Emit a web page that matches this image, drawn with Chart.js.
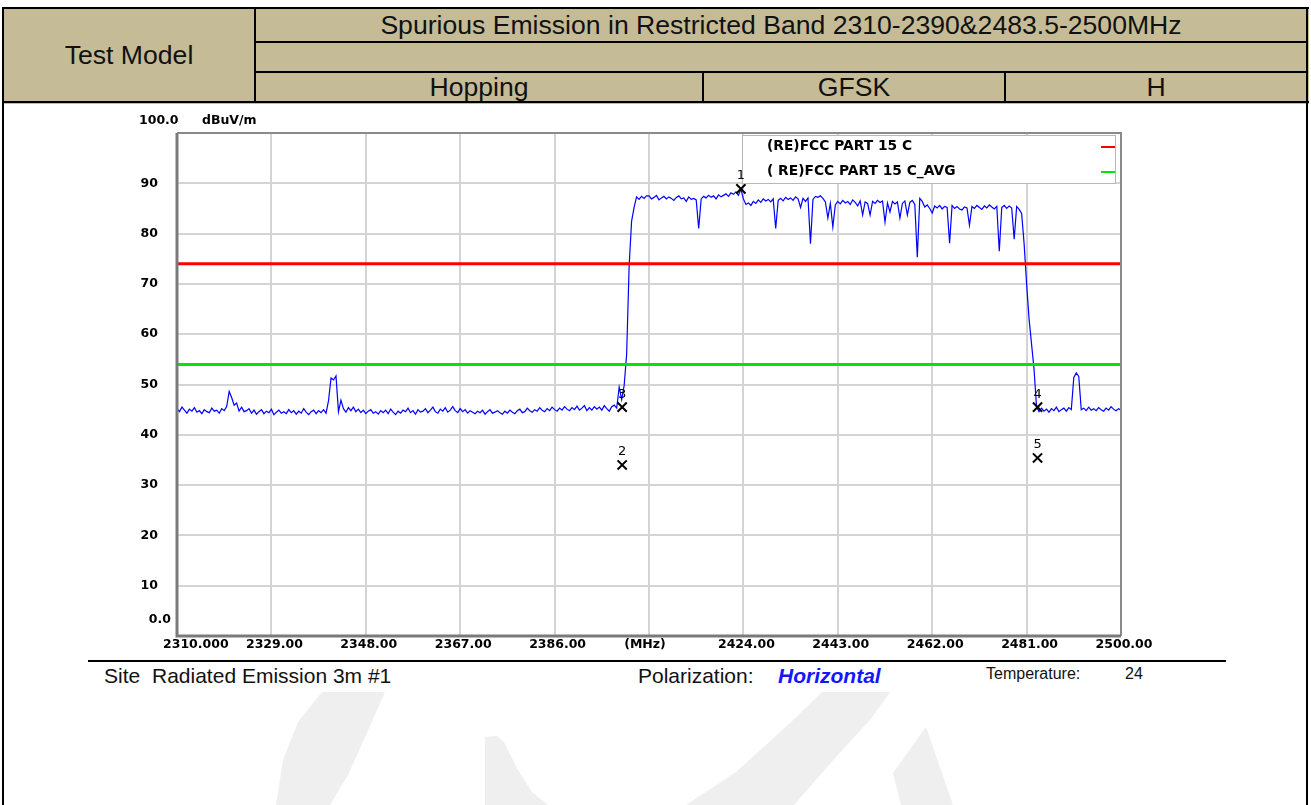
<!DOCTYPE html>
<html>
  <head>
    <title>Spurious Emission in Restricted Band 2310-2390&amp;2483.5-2500MHz</title>
    <script src="https://cdn.jsdelivr.net/npm/chart.js@4"></script>
    <style>
      body {
        margin: 0;
        background: #fff;
      }
      #page {
        position: relative;
        width: 1311px;
        height: 805px;
        overflow: hidden;
        font-family: "Liberation Sans", Arial, sans-serif;
        color: #111;
      }
      .bg { position: absolute; background: #c5bc97; }
      .rule { position: absolute; background: #000; }
      .cell {
        position: absolute;
        display: flex;
        align-items: center;
        justify-content: center;
        font-size: 26.6px;
      }
      .foot { position: absolute; font-size: 21px; line-height: 24px; }
      #watermark, #canvas { position: absolute; left: 0; top: 0; }
    </style>
  </head>

  <body>
    <div id="page">
      <svg id="watermark" width="1311" height="805">
        <g fill="#efefef">
          <path d="M322,692 L385,692 L366,735 L348,775 L330,805 L276,805 L283,760 L298,722 Z" />
          <path d="M485,737 L497,736 L504,742 L518,770 L532,792 L548,805 L485,805 Z" />
          <path d="M822,692 L890,692 L870,720 L836,757 L794,805 L686,805 L736,772 L790,723 Z" />
          <path d="M926,727 L953,805 L901,805 L893,773 Z" />
        </g>
      </svg>

      <!-- header table -->
      <div class="bg" style="left:2px; top:7px; width:1307px; height:97px"></div>
      <div class="rule" style="left:2px; top:7px; width:1307px; height:2px"></div>
      <div class="rule" style="left:2px; top:101px; width:1307px; height:2px"></div>
      <div class="rule" style="left:2px; top:7px; width:2px; height:798px"></div>
      <div class="rule" style="left:1306px; top:7px; width:2px; height:798px"></div>
      <div class="rule" style="left:254px; top:7px; width:2px; height:96px"></div>
      <div class="rule" style="left:255px; top:41px; width:1052px; height:2px"></div>
      <div class="rule" style="left:255px; top:71px; width:1052px; height:2px"></div>
      <div class="rule" style="left:702px; top:72px; width:2px; height:31px"></div>
      <div class="rule" style="left:1004px; top:72px; width:2px; height:31px"></div>

      <div class="cell" style="left:4px; top:9px; width:250px; height:92px">Test Model</div>
      <div class="cell" style="left:256px; top:9px; width:1050px; height:32px">Spurious Emission in Restricted Band 2310-2390&amp;2483.5-2500MHz</div>
      <div class="cell" style="left:256px; top:73px; width:446px; height:28px">Hopping</div>
      <div class="cell" style="left:704px; top:73px; width:300px; height:28px">GFSK</div>
      <div class="cell" style="left:1006px; top:73px; width:300px; height:28px">H</div>

      <!-- footer -->
      <div class="rule" style="left:88px; top:660px; width:1138px; height:2px"></div>
      <div class="foot" style="left:104px; top:664px">Site</div>
      <div class="foot" style="left:152px; top:664px">Radiated Emission 3m #1</div>
      <div class="foot" style="left:638px; top:664px">Polarization:</div>
      <div class="foot" style="left:778px; top:664px; color:#1515ff; font-weight:bold; font-style:italic">Horizontal</div>
      <div class="foot" style="left:986px; top:664px; font-size:16px; line-height:20px">Temperature:</div>
      <div class="foot" style="left:1125px; top:664px; font-size:16px; line-height:20px">24</div>

      <canvas id="canvas" width="1311" height="805"></canvas>
    </div>

    <script>
      // analyser sweep: 2310 MHz .. 2500 MHz, 0.5 MHz per point
      const sweepStart = 2310;
      const sweepStep = 0.5;
      const traceLevel = [
        45.2, 44.6, 45.5, 44.9, 44.3, 45.1, 44.7, 45.4, 44.5, 44.8, // 2310
        44.2, 45.0, 44.6, 44.4, 45.3, 44.7, 44.9, 44.3, 45.2, 44.8, // 2315
        45.6, 48.6, 47.4, 45.9, 46.3, 44.7, 45.5, 44.6, 44.8, 45.2, // 2320
        44.3, 44.9, 44.1, 44.6, 45.0, 44.2, 44.7, 44.4, 45.1, 44.0, // 2325
        44.5, 44.9, 44.3, 44.6, 44.2, 45.0, 44.4, 44.8, 44.1, 44.7, // 2330
        44.3, 45.2, 44.5, 44.0, 44.6, 44.9, 44.2, 44.8, 44.4, 45.0, // 2335
        44.3, 46.8, 51.3, 50.9, 51.7, 44.6, 46.9, 45.2, 44.5, 45.4, // 2340
        44.8, 45.5, 44.6, 45.1, 44.4, 44.9, 44.2, 44.7, 45.0, 44.3, // 2345
        44.6, 44.1, 44.8, 44.4, 44.9, 44.2, 45.1, 44.5, 44.0, 44.7, // 2350
        44.3, 44.9, 44.6, 45.3, 44.4, 44.8, 44.1, 45.0, 44.5, 44.7, // 2355
        45.2, 44.4, 44.9, 45.5, 44.6, 44.3, 45.1, 44.7, 45.4, 44.5, // 2360
        44.9, 45.6, 44.8, 44.4, 45.2, 44.6, 45.0, 44.3, 44.8, 44.5, // 2365
        44.2, 44.7, 44.4, 44.9, 44.1, 44.6, 45.0, 44.3, 44.5, 44.8, // 2370
        44.4, 44.1, 44.7, 44.3, 44.9, 44.5, 44.2, 44.8, 45.1, 44.4, // 2375
        44.6, 45.3, 44.8, 44.5, 45.0, 44.7, 45.4, 44.9, 44.6, 45.2, // 2380
        44.8, 45.5, 45.0, 44.7, 45.3, 44.9, 45.6, 45.1, 44.8, 45.4, // 2385
        45.0, 45.7, 44.9, 45.3, 45.8, 44.8, 45.4, 44.9, 45.6, 45.1, // 2390
        45.5, 44.9, 45.8, 45.2, 44.7, 45.6, 45.9, 45.3, 49.5, 47.0, // 2395
        49.8, 56.0, 73.5, 82.5, 85.2, 87.3, 86.8, 87.4, 87.0, 87.5, // 2400
        87.5, 86.9, 87.2, 87.6, 86.7, 87.1, 87.4, 86.9, 87.3, 87.0, // 2405
        86.6, 87.2, 87.5, 86.9, 87.1, 86.4, 87.3, 86.8, 87.0, 86.7, // 2410
        81.0, 86.9, 87.4, 87.1, 87.6, 87.2, 87.5, 86.9, 87.7, 87.3, // 2415
        87.6, 87.9, 87.4, 88.1, 87.8, 88.3, 87.6, 88.8, 86.9, 85.8, // 2420
        86.1, 85.6, 86.4, 86.0, 86.7, 86.2, 86.9, 86.5, 86.8, 86.3, // 2425
        86.9, 81.0, 86.6, 87.0, 86.5, 87.2, 86.8, 87.1, 86.6, 87.3, // 2430
        86.9, 85.2, 87.0, 86.4, 87.1, 78.0, 86.8, 87.4, 87.2, 87.5, // 2435
        87.0, 86.3, 83.1, 86.0, 81.3, 85.7, 86.4, 85.9, 86.6, 86.1, // 2440
        86.4, 85.8, 86.7, 86.2, 85.5, 86.5, 83.7, 86.3, 86.0, 83.7, // 2445
        86.4, 86.0, 86.6, 86.2, 86.5, 82.3, 86.1, 84.3, 86.4, 85.9, // 2450
        86.3, 83.1, 86.0, 86.5, 83.7, 86.2, 86.6, 85.8, 75.3, 87.0, // 2455
        86.4, 85.3, 85.7, 85.0, 84.1, 85.5, 85.1, 85.6, 84.9, 85.4, // 2460
        85.2, 78.1, 85.6, 85.0, 85.4, 84.9, 84.7, 85.3, 85.1, 81.7, // 2465
        85.4, 85.0, 85.6, 85.2, 84.8, 85.5, 85.1, 85.7, 85.3, 84.9, // 2470
        85.4, 76.5, 85.2, 85.6, 85.0, 85.5, 85.1, 78.9, 85.4, 84.8, // 2475
        84.0, 78.0, 70.0, 63.0, 58.0, 53.0, 45.5, 44.6, 45.3, 44.7, // 2480
        45.1, 44.5, 45.2, 44.8, 45.5, 44.6, 45.0, 45.3, 44.7, 45.4, // 2485
        45.0, 51.4, 52.3, 51.6, 45.0, 45.3, 44.8, 45.5, 44.9, 45.2, // 2490
        44.8, 45.4, 45.0, 44.7, 45.3, 44.9, 45.6, 45.1, 44.8, 45.2, // 2495
        44.9                                                        // 2500
      ];

      const limitFreq = [2310, 2500];
      const peakLimit = [74, 74];
      const avgLimit = [54, 54];
      const legendNames = ['(RE)FCC PART 15 C', '( RE)FCC PART 15 C_AVG'];

      const markerNo = ['1', '2', '3', '4', '5'];
      const markerFreq = [2423.5, 2399.6, 2399.6, 2483.2, 2483.2];
      const markerLevel = [88.9, 34.0, 45.5, 45.5, 35.4];

      const freqTicks = [2310, 2329, 2348, 2367, 2386, 2405, 2424, 2443, 2462, 2481, 2500];
      const freqTickLabels = ['2310.000', '2329.00', '2348.00', '2367.00', '2386.00', '(MHz)',
        '2424.00', '2443.00', '2462.00', '2481.00', '2500.00'];
      const levelTicks = [0, 10, 20, 30, 40, 50, 60, 70, 80, 90, 100];
      const levelTickLabels = ['0.0', '10', '20', '30', '40', '50', '60', '70', '80', '90', '100.0'];

      const tickFont = 'bold 12.5px "DejaVu Sans", sans-serif';

      // axis labels, legend box, marker numbers and plot frame
      const analyserFrame = {
        id: 'analyserFrame',
        afterDatasetsDraw(chart) {
          const { ctx, chartArea: a, scales } = chart;
          const xs = scales.x, ys = scales.y;
          ctx.save();
          ctx.fillStyle = '#000';
          ctx.font = tickFont;
          ctx.textBaseline = 'middle';

          levelTicks.forEach((v, i) => {
            const y = ys.getPixelForValue(v);
            if (v === 100) {
              ctx.textAlign = 'left';
              ctx.fillText(levelTickLabels[i], a.left - 38, y - 12);
              ctx.fillText('dBuV/m', a.left + 25, y - 12);
            } else if (v === 0) {
              ctx.textAlign = 'right';
              ctx.fillText(levelTickLabels[i], a.left - 6, y - 16);
            } else {
              ctx.textAlign = 'right';
              ctx.fillText(levelTickLabels[i], a.left - 19, y);
            }
          });

          freqTicks.forEach((v, i) => {
            const x = xs.getPixelForValue(v);
            if (i === 0) {
              ctx.textAlign = 'left';
              ctx.fillText(freqTickLabels[i], x - 14, a.bottom + 9);
            } else {
              ctx.textAlign = 'center';
              ctx.fillText(freqTickLabels[i], x + (i === 5 ? -4 : 3), a.bottom + 9);
            }
          });

          // legend
          const lx = a.right - 379, ly = a.top + 2;
          ctx.fillStyle = '#fff';
          ctx.fillRect(lx, ly, 373, 48);
          ctx.strokeStyle = '#b8b8b8';
          ctx.lineWidth = 1;
          ctx.strokeRect(lx + 0.5, ly + 0.5, 373, 48);
          ctx.font = 'bold 13.8px "DejaVu Sans", sans-serif';
          ctx.textAlign = 'left';
          const swatch = ['#ff0000', '#00e600'];
          legendNames.forEach((name, i) => {
            const y = ly + 11 + i * 25;
            ctx.fillStyle = '#000';
            ctx.fillText(name, lx + 25, y);
            ctx.fillStyle = swatch[i];
            ctx.fillRect(a.right - 20, y, 14, 2);
          });

          // marker numbers
          ctx.fillStyle = '#000';
          ctx.font = '13px "DejaVu Sans", sans-serif';
          ctx.textAlign = 'center';
          chart.getDatasetMeta(3).data.forEach((pt, i) => {
            ctx.fillText(markerNo[i], pt.x, pt.y - 13);
          });

          // plot frame
          ctx.strokeStyle = '#8a8a8a';
          ctx.lineWidth = 2;
          ctx.beginPath();
          ctx.moveTo(a.left, a.top);
          ctx.lineTo(a.right, a.top);
          ctx.lineTo(a.right, a.bottom);
          ctx.stroke();
          ctx.strokeStyle = '#7a7a7a';
          ctx.lineWidth = 3;
          ctx.beginPath();
          ctx.moveTo(a.left, a.top);
          ctx.lineTo(a.left, a.bottom);
          ctx.lineTo(a.right, a.bottom);
          ctx.stroke();
          ctx.restore();
        },
      };

      window.onload = () => {
        const trace = traceLevel.map((y, i) => ({ x: sweepStart + i * sweepStep, y }));
        const limitLine = (lv) => limitFreq.map((x, i) => ({ x, y: lv[i] }));
        const markers = markerFreq.map((x, i) => ({ x, y: markerLevel[i] }));

        const ctx = document.getElementById('canvas').getContext('2d');
        window.myChart = new Chart(ctx, {
          type: 'line',
          data: {
            datasets: [
              {
                label: legendNames[0],
                data: limitLine(peakLimit),
                borderColor: '#ff0000',
                borderWidth: 3,
                pointRadius: 0,
                order: 1,
              },
              {
                label: legendNames[1],
                data: limitLine(avgLimit),
                borderColor: '#00e600',
                borderWidth: 3,
                pointRadius: 0,
                order: 1,
              },
              {
                label: 'Level',
                data: trace,
                borderColor: '#0000ff',
                borderWidth: 1.2,
                pointRadius: 0,
                tension: 0,
                order: 2,
              },
              {
                label: 'Markers',
                type: 'scatter',
                data: markers,
                pointStyle: 'crossRot',
                pointRadius: 6.5,
                borderColor: '#000',
                borderWidth: 2,
                clip: false,
                order: 0,
              },
            ],
          },
          options: {
            responsive: false,
            animation: false,
            devicePixelRatio: 1,
            layout: { padding: { left: 177, top: 133, right: 190, bottom: 169 } },
            plugins: {
              legend: { display: false },
              tooltip: { enabled: false },
            },
            scales: {
              x: {
                type: 'linear',
                min: 2310,
                max: 2500,
                afterBuildTicks: (s) => { s.ticks = freqTicks.map((value) => ({ value })); },
                ticks: { display: false },
                grid: { color: '#d4d4d4', lineWidth: 2, drawTicks: false },
                border: { display: false },
              },
              y: {
                min: 0,
                max: 100,
                afterBuildTicks: (s) => { s.ticks = levelTicks.map((value) => ({ value })); },
                ticks: { display: false },
                grid: { color: '#d4d4d4', lineWidth: 2, drawTicks: false },
                border: { display: false },
              },
            },
          },
          plugins: [analyserFrame],
        });
      };
    </script>
  </body>
</html>
